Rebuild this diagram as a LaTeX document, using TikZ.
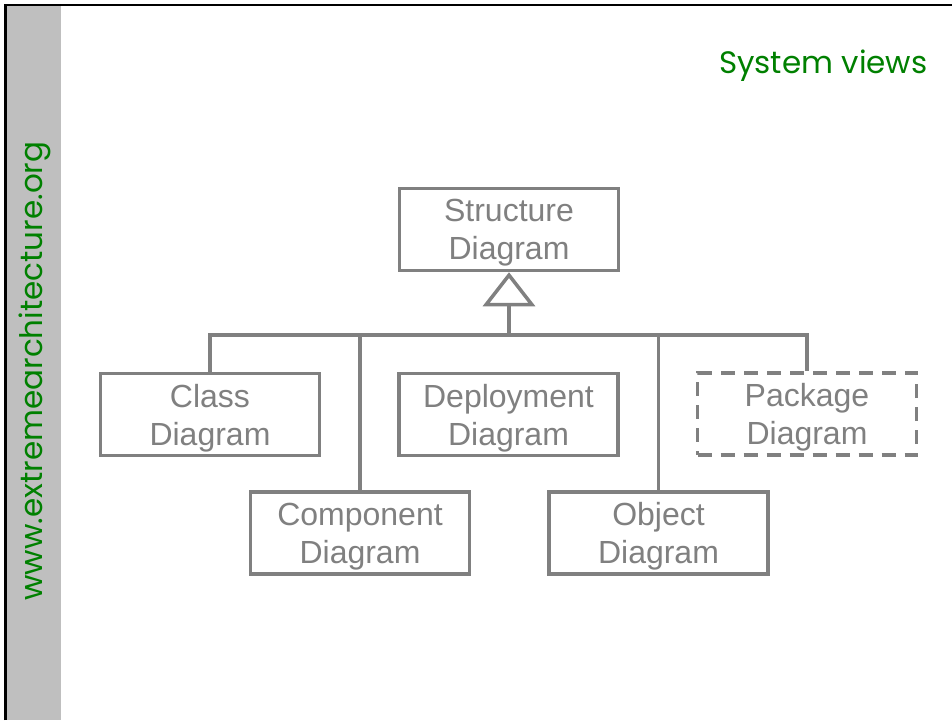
\documentclass[tikz,border=0pt]{standalone}
\usepackage{fontspec}
\setmainfont{Liberation Sans}
\newfontfamily\gothic{Poppins}
\usetikzlibrary{arrows.meta}
\definecolor{sitegreen}{RGB}{0,128,0}
\definecolor{umlgrey}{RGB}{128,128,128}
\begin{document}
\begin{tikzpicture}[x=1pt,y=-1pt,
  diagbox/.style={draw=umlgrey,line width=3.5pt,text=umlgrey,align=center,minimum width=219pt,minimum height=82pt,inner sep=0pt,text depth=0pt,font=\fontsize{32}{38}\selectfont},
  conn/.style={draw=umlgrey,line width=3.5pt}]
\useasboundingbox (0,0) rectangle (952,720);
\fill[white] (0,0) rectangle (952,720);
\fill[black!25] (6,6) rectangle (61,720);
\draw[line width=2.5pt] (5.5,720) -- (5.5,5) -- (952,5);
\node[rotate=90,text=sitegreen,font=\gothic\fontsize{31}{34}\selectfont] (site) at (35,371) {www.extremearchitecture.org};
\node[anchor=east,text=sitegreen,font=\gothic\fontsize{31}{34}\selectfont] (title) at (931,66) {System views};

\node[diagbox] (struct) at (509,229.5) {Structure\\Diagram};
\node[diagbox] (class) at (210,414.5) {Class\\Diagram};
\node[diagbox] (deploy) at (508.5,414.5) {Deployment\\Diagram};
\node[diagbox,dashed,dash pattern=on 14pt off 9pt] (pack) at (807,414) {Package\\Diagram};
\node[diagbox] (comp) at (360,533) {Component\\Diagram};
\node[diagbox] (obj) at (658.5,533) {Object\\Diagram};

\coordinate (bus) at (509,335);
\draw[conn] (class.north) -- (class.north |- bus) -- (pack.north |- bus) -- (pack.north);
\draw[conn] (comp.north) -- (comp.north |- bus);
\draw[conn] (obj.north) -- (obj.north |- bus);
\draw[conn] [-{Triangle[open,length=34pt,width=52pt]}] (bus) -- (struct.south);

\end{tikzpicture}
\end{document}
